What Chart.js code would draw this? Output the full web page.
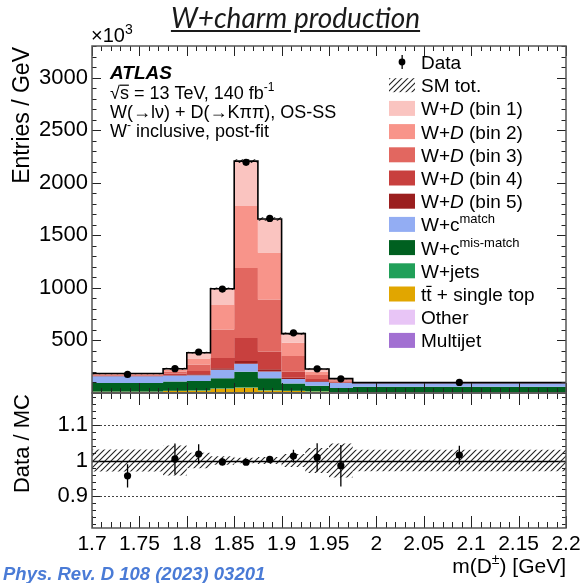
<!DOCTYPE html>
<html>
<head>
<meta charset="utf-8">
<script src="https://cdn.jsdelivr.net/npm/chart.js@4.4.1/dist/chart.umd.min.js"></script>
<style>
  body { margin: 0; background: #fff; }
  #wrap { position: relative; width: 587px; height: 583px; overflow: hidden; background: #fff; }
  canvas { position: absolute; left: 0; }
  #main { top: 0; }
  #ratio { top: 380px; }
  #title { position: absolute; top: 0px; left: 2px; width: 587px; text-align: center;
           font: italic 28px Lato, "Open Sans", sans-serif; color: #1a1a1a; text-decoration: underline; }
  #cite { position: absolute; left: 3px; top: 563px; font: italic bold 18.5px "Liberation Sans", Arial, sans-serif; color: #4a7bd6; }
</style>
</head>
<body>
<div id="wrap">
  <canvas id="main" width="587" height="400"></canvas>
  <canvas id="ratio" width="587" height="203"></canvas>
  <div id="title">W+charm production</div>
  <div id="cite">Phys. Rev. D 108 (2023) 03201</div>
</div>
<script>
const FONT = '"Liberation Sans", Arial, sans-serif';

// bin edges of m(D) in GeV
const binEdges = [1.7, 1.775, 1.8, 1.825, 1.85, 1.875, 1.9, 1.925, 1.95, 1.975, 2.2];

// stacked contributions, Entries / GeV (x10^3)
const wdBin1 = [5, 10, 55, 156, 427, 319, 86, 26, 6, 2];
const wdBin2 = [6, 15, 58, 233, 589, 447, 128, 32, 9, 2];
const wdBin3 = [7, 20, 60, 271, 667, 494, 149, 38, 12, 1];
const wdBin4 = [5, 13, 32, 96, 217, 169, 57, 19, 10, 1];
const wdBin5 = [3, 5, 10, 16, 26, 22, 13, 6, 4, 1];
const wcMatch = [65, 57, 54, 80, 77, 64, 41, 38, 48, 32];
const wcMismatch = [80, 89, 89, 96, 147, 112, 70, 51, 38, 50];
const wJets = [2, 3, 3, 4, 5, 4, 3, 3, 2, 2];
const ttbar = [10, 16, 20, 38, 48, 22, 16, 13, 6, 6];
const other = [1, 1, 1, 1, 1, 1, 1, 1, 1, 1];
const multijet = [1, 1, 1, 1, 1, 1, 1, 1, 1, 1];

const dataVals = [177, 231, 390, 988, 2194, 1660, 572, 230, 135, 100.5];
const dataErr = [6, 10, 10.5, 10, 11, 10, 10, 9, 8, 2.6];
const mcRelErr = [0.031, 0.042, 0.022, 0.012, 0.008, 0.010, 0.018, 0.035, 0.048, 0.03];

const mainTicks = [500, 1000, 1500, 2000, 2500, 3000];
const ratioTicks = [0.9, 1, 1.1];
const xTicks = [1.7, 1.75, 1.8, 1.85, 1.9, 1.95, 2, 2.05, 2.1, 2.15, 2.2];

// bottom to top
const layers = [
    { vals: multijet, color: '#a270d2' },
    { vals: other, color: '#e8c5f6' },
    { vals: ttbar, color: '#e1a600' },
    { vals: wJets, color: '#21a059' },
    { vals: wcMismatch, color: '#006020' },
    { vals: wcMatch, color: '#93adf3' },
    { vals: wdBin5, color: '#9b1f1f' },
    { vals: wdBin4, color: '#c8403e' },
    { vals: wdBin3, color: '#e26760' },
    { vals: wdBin2, color: '#f8948a' },
    { vals: wdBin1, color: '#fac4c0' }
];

const legendRows = [
    { type: 'data', segs: [['Data', '']] },
    { type: 'hatch', segs: [['SM tot.', '']] },
    { color: '#fac4c0', segs: [['W+', ''], ['D', 'i'], [' (bin 1)', '']] },
    { color: '#f8948a', segs: [['W+', ''], ['D', 'i'], [' (bin 2)', '']] },
    { color: '#e26760', segs: [['W+', ''], ['D', 'i'], [' (bin 3)', '']] },
    { color: '#c8403e', segs: [['W+', ''], ['D', 'i'], [' (bin 4)', '']] },
    { color: '#9b1f1f', segs: [['W+', ''], ['D', 'i'], [' (bin 5)', '']] },
    { color: '#93adf3', segs: [['W+c', ''], ['match', 'sup']] },
    { color: '#006020', segs: [['W+c', ''], ['mis-match', 'sup']] },
    { color: '#21a059', segs: [['W+jets', '']] },
    { color: '#e1a600', segs: [['t', ''], ['t', 'bar'], [' + single top', '']] },
    { color: '#e8c5f6', segs: [['Other', '']] },
    { color: '#a270d2', segs: [['Multijet', '']] }
];

function steps(vals) {
    const pts = vals.map((v, i) => ({ x: binEdges[i], y: v }));
    pts.push({ x: binEdges[binEdges.length - 1], y: vals[vals.length - 1] });
    return pts;
}
const centers = dataVals.map((v, i) => (binEdges[i] + binEdges[i + 1]) / 2);

function makeHatch(ctx) {
    const c = document.createElement('canvas');
    c.width = 6; c.height = 6;
    const g = c.getContext('2d');
    g.strokeStyle = '#222';
    g.lineWidth = 1.1;
    g.beginPath();
    g.moveTo(0, 6); g.lineTo(6, 0);
    g.moveTo(-1, 1); g.lineTo(1, -1);
    g.moveTo(5, 7); g.lineTo(7, 5);
    g.stroke();
    return ctx.createPattern(c, 'repeat');
}

function drawRich(ctx, x, y, segs, size, align) {
    const fontOf = st => {
        const s = st === 'sup' ? Math.round(size * 0.68) : size;
        const style = st === 'i' ? 'italic ' : st === 'bi' ? 'italic bold ' : '';
        return style + s + 'px ' + FONT;
    };
    let w = 0;
    segs.forEach(([t, st]) => { ctx.font = fontOf(st); w += ctx.measureText(t).width; });
    let cx = align === 'right' ? x - w : x;
    ctx.textAlign = 'left';
    ctx.textBaseline = 'alphabetic';
    segs.forEach(([t, st]) => {
        ctx.font = fontOf(st);
        const tw = ctx.measureText(t).width;
        const dy = st === 'sup' ? -size * 0.42 : 0;
        ctx.fillText(t, cx, y + dy);
        if (st === 'bar') ctx.fillRect(cx, y - size * 0.8, tw, 1.2);
        cx += tw;
    });
}

// no extra padding from tick labels, so both panels line up
function noPad(s) {
    s.paddingTop = 0; s.paddingBottom = 0; s.paddingLeft = 0; s.paddingRight = 0;
}

function framePlugin(o) {
    return {
        id: 'frame_' + o.name,
        afterDraw(chart) {
            const { ctx, chartArea: a, scales: { x, y } } = chart;
            ctx.save();
            ctx.strokeStyle = '#222';
            ctx.lineWidth = 1;
            ctx.beginPath();
            for (let k = 0; ; k++) {
                const v = x.min + k * o.xMinor;
                if (v > x.max + 1e-9) break;
                const px = Math.round(x.getPixelForValue(v)) + 0.5;
                const major = Math.abs(v / o.xMajor - Math.round(v / o.xMajor)) < 1e-6;
                const len = major ? o.xLen : o.xLen / 2;
                ctx.moveTo(px, a.bottom); ctx.lineTo(px, a.bottom - len);
                ctx.moveTo(px, a.top); ctx.lineTo(px, a.top + len);
            }
            const y0 = Math.ceil(y.min / o.yMinor - 1e-6) * o.yMinor;
            for (let k = 0; ; k++) {
                const v = y0 + k * o.yMinor;
                if (v > y.max + 1e-9) break;
                const py = Math.round(y.getPixelForValue(v)) + 0.5;
                const major = Math.abs(v / o.yMajor - Math.round(v / o.yMajor)) < 1e-6;
                const len = major ? o.yLen : o.yLen / 2;
                ctx.moveTo(a.left, py); ctx.lineTo(a.left + len, py);
                ctx.moveTo(a.right, py); ctx.lineTo(a.right - len, py);
            }
            ctx.stroke();
            ctx.strokeStyle = '#555';
            ctx.lineWidth = 1.5;
            ctx.strokeRect(a.left, a.top, a.right - a.left, a.bottom - a.top);
            ctx.restore();
            if (o.extra) o.extra(chart);
        }
    };
}

function errorBars(id, getErr) {
    return {
        id: id,
        afterDatasetsDraw(chart) {
            const { ctx, chartArea: a, scales: { y } } = chart;
            const last = chart.data.datasets.length - 1;
            const meta = chart.getDatasetMeta(last);
            ctx.save();
            ctx.beginPath();
            ctx.rect(a.left, a.top, a.right - a.left, a.bottom - a.top);
            ctx.clip();
            ctx.strokeStyle = '#000';
            ctx.lineWidth = 1.3;
            ctx.beginPath();
            meta.data.forEach((p, i) => {
                const d = chart.data.datasets[last].data[i];
                const e = getErr(i);
                ctx.moveTo(p.x, y.getPixelForValue(d.y - e));
                ctx.lineTo(p.x, y.getPixelForValue(d.y + e));
            });
            ctx.stroke();
            ctx.restore();
        }
    };
}

const mainCanvas = document.getElementById('main');
const ratioCanvas = document.getElementById('ratio');
const hatchMain = makeHatch(mainCanvas.getContext('2d'));
const hatchRatio = makeHatch(ratioCanvas.getContext('2d'));

// cumulative stack
let cum = binEdges.slice(0, -1).map(() => 0);
const mainSets = layers.map((l, k) => {
    cum = cum.map((c, i) => c + l.vals[i]);
    return {
        data: steps(cum), stepped: 'before', borderWidth: 0, pointRadius: 0,
        backgroundColor: l.color, fill: k === 0 ? 'origin' : k - 1, order: 20 - k
    };
});
const mcTotal = cum.slice();
const nL = layers.length;
mainSets.push({ data: steps(mcTotal.map((t, i) => t * (1 - mcRelErr[i]))), stepped: 'before',
    borderWidth: 0, pointRadius: 0, fill: false, order: 3 });
mainSets.push({ data: steps(mcTotal.map((t, i) => t * (1 + mcRelErr[i]))), stepped: 'before',
    borderWidth: 0, pointRadius: 0, fill: nL, backgroundColor: hatchMain, order: 3 });
mainSets.push({ data: steps(mcTotal), stepped: 'before', borderColor: '#000', borderWidth: 1.6,
    pointRadius: 0, fill: false, order: 1 });
mainSets.push({ data: dataVals.map((v, i) => ({ x: centers[i], y: v })), showLine: false,
    pointRadius: 3.6, pointBackgroundColor: '#000', pointBorderWidth: 0, order: 0 });

function mainExtra(chart) {
    const ctx = chart.ctx;
    ctx.save();
    ctx.fillStyle = '#000';
    drawRich(ctx, 91, 42, [['×10', ''], ['3', 'sup']], 20);
    drawRich(ctx, 110, 79, [['ATLAS', 'bi']], 19);
    drawRich(ctx, 110, 99, [['√', ''], ['s', 'bar'], [' = 13 TeV, 140 fb', ''], ['-1', 'sup']], 18);
    drawRich(ctx, 110, 118, [['W(→lν) + D(→Kππ), OS-SS', '']], 18);
    drawRich(ctx, 110, 137, [['W', ''], ['-', 'sup'], [' inclusive, post-fit', '']], 18);
    // y title
    ctx.save();
    ctx.translate(23, 47);
    ctx.rotate(-Math.PI / 2);
    ctx.font = '23px ' + FONT;
    ctx.textAlign = 'right';
    ctx.textBaseline = 'middle';
    ctx.fillText('Entries / GeV', 0, 0);
    ctx.restore();
    // legend
    legendRows.forEach((r, i) => {
        const cy = 62 + 23.2 * i;
        if (r.type === 'data') {
            ctx.fillRect(401.5, cy - 7, 1.3, 14);
            ctx.beginPath(); ctx.arc(402, cy, 3.4, 0, Math.PI * 2); ctx.fill();
        } else if (r.type === 'hatch') {
            ctx.fillStyle = hatchMain;
            ctx.fillRect(389, cy - 7, 26, 14);
            ctx.fillStyle = '#000';
        } else {
            ctx.fillStyle = r.color;
            ctx.fillRect(389, cy - 7.5, 26, 15);
            ctx.fillStyle = '#000';
        }
        drawRich(ctx, 421, cy + 7, r.segs, 19);
    });
    ctx.restore();
}

new Chart(mainCanvas, {
    type: 'line',
    data: { datasets: mainSets },
    options: {
        responsive: false,
        animation: false,
        layout: { padding: { left: 0, right: 21, top: 46, bottom: 7 } },
        elements: { line: { tension: 0 } },
        plugins: { legend: { display: false }, tooltip: { enabled: false } },
        scales: {
            x: { type: 'linear', min: 1.7, max: 2.2, display: false },
            y: {
                min: 0, max: 3300,
                afterFit: s => { s.width = 92; noPad(s); },
                afterBuildTicks: s => { s.ticks = mainTicks.map(v => ({ value: v })); },
                ticks: { callback: v => String(v), font: { family: FONT, size: 22 }, color: '#000', padding: 4 },
                grid: { display: false, drawTicks: false },
                border: { display: false }
            }
        }
    },
    plugins: [
        framePlugin({ name: 'main', xMinor: 0.01, xMajor: 0.05, xLen: 10, yMinor: 100, yMajor: 500, yLen: 9, extra: mainExtra }),
        errorBars('errMain', i => dataErr[i])
    ]
});

// ratio panel
const ratioVals = dataVals.map((v, i) => v / mcTotal[i]);
const ratioErr = dataErr.map((e, i) => e / mcTotal[i]);

function ratioExtra(chart) {
    const ctx = chart.ctx;
    ctx.save();
    ctx.fillStyle = '#000';
    ctx.save();
    ctx.translate(23, 14);
    ctx.rotate(-Math.PI / 2);
    ctx.font = '22px ' + FONT;
    ctx.textAlign = 'right';
    ctx.textBaseline = 'middle';
    ctx.fillText('Data / MC', 0, 0);
    ctx.restore();
    drawRich(ctx, 566, 193, [['m(D', ''], ['±', 'sup'], [') [GeV]', '']], 21, 'right');
    ctx.restore();
}

const refLines = {
    id: 'refLines',
    beforeDatasetsDraw(chart) {
        const { ctx, chartArea: a, scales: { y } } = chart;
        ctx.save();
        ctx.strokeStyle = '#444';
        ctx.lineWidth = 1;
        ctx.setLineDash([2, 2]);
        [0.9, 1.1].forEach(v => {
            const py = Math.round(y.getPixelForValue(v)) + 0.5;
            ctx.beginPath(); ctx.moveTo(a.left, py); ctx.lineTo(a.right, py); ctx.stroke();
        });
        ctx.restore();
    },
    afterDatasetsDraw(chart) {
        const { ctx, chartArea: a, scales: { y } } = chart;
        const py = Math.round(y.getPixelForValue(1)) + 0.5;
        ctx.save();
        ctx.strokeStyle = '#000';
        ctx.lineWidth = 1.4;
        ctx.beginPath(); ctx.moveTo(a.left, py); ctx.lineTo(a.right, py); ctx.stroke();
        ctx.restore();
    }
};

new Chart(ratioCanvas, {
    type: 'line',
    data: {
        datasets: [
            { data: steps(mcRelErr.map(u => 1 - u)), stepped: 'before', borderWidth: 0, pointRadius: 0, fill: false, order: 5 },
            { data: steps(mcRelErr.map(u => 1 + u)), stepped: 'before', borderWidth: 0, pointRadius: 0, fill: 0,
              backgroundColor: hatchRatio, order: 5 },
            { data: ratioVals.map((v, i) => ({ x: centers[i], y: v })), showLine: false,
              pointRadius: 3.6, pointBackgroundColor: '#000', pointBorderWidth: 0, order: 0 }
        ]
    },
    options: {
        responsive: false,
        animation: false,
        layout: { padding: { left: 0, right: 21, top: 13, bottom: 17 } },
        elements: { line: { tension: 0 } },
        plugins: { legend: { display: false }, tooltip: { enabled: false } },
        scales: {
            x: {
                type: 'linear', min: 1.7, max: 2.2,
                afterBuildTicks: s => { s.ticks = xTicks.map(v => ({ value: v })); },
                afterFit: s => { s.height = 38; noPad(s); },
                ticks: { callback: v => String(v), font: { family: FONT, size: 21 }, color: '#000', padding: 4, maxRotation: 0, autoSkip: false },
                grid: { display: false, drawTicks: false },
                border: { display: false }
            },
            y: {
                min: 0.81, max: 1.19,
                afterFit: s => { s.width = 92; noPad(s); },
                afterBuildTicks: s => { s.ticks = ratioTicks.map(v => ({ value: v })); },
                ticks: { callback: v => String(v), font: { family: FONT, size: 22 }, color: '#000', padding: 4 },
                grid: { display: false, drawTicks: false },
                border: { display: false }
            }
        }
    },
    plugins: [
        refLines,
        framePlugin({ name: 'ratio', xMinor: 0.01, xMajor: 0.05, xLen: 12, yMinor: 0.02, yMajor: 0.1, yLen: 8, extra: ratioExtra }),
        errorBars('errRatio', i => ratioErr[i])
    ]
});
</script>
</body>
</html>
